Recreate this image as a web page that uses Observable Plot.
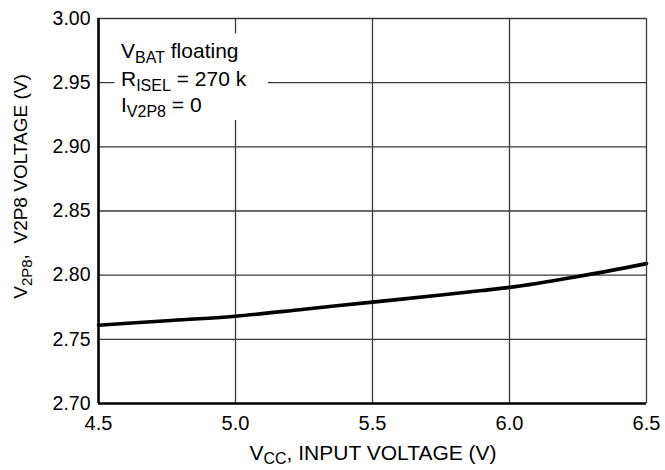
<!DOCTYPE html>
<html><head><meta charset="utf-8">
<script src="https://cdn.jsdelivr.net/npm/d3@7"></script>
<script src="https://cdn.jsdelivr.net/npm/@observablehq/plot@0.6"></script>
<style>
body{margin:0;background:#fff}
svg{font-family:"Liberation Sans",Arial,sans-serif}
</style>
</head><body><div id="chart"></div>
<script>
// Data
const vcc  = [4.5, 4.75, 5.0, 5.25, 5.5, 5.75, 5.9, 6.0, 6.25, 6.5];
const v2p8 = [2.761, 2.7645, 2.768, 2.7735, 2.779, 2.7845, 2.788, 2.7905, 2.799, 2.809];
const xTicks = [4.5, 5.0, 5.5, 6.0, 6.5];
const yTicks = [2.70, 2.75, 2.80, 2.85, 2.90, 2.95, 3.00];
const noteMain = ["V", "R", "I"];
const noteSub  = ["BAT", "ISEL", "V2P8"];
const noteRest = [" floating", " = 270 k", " = 0"];
const xTitle = ["V", "CC", ", INPUT VOLTAGE (V)"];
const yTitle = ["V", "2P8", ",  V2P8 VOLTAGE (V)"];

const data = vcc.map((x, i) => ({x, y: v2p8[i]}));
const noteBox = [{x1: 4.56, x2: 5.12, y1: 2.9205, y2: 2.988}];

const W = 665, H = 470;
const plot = Plot.plot({
  width: W, height: H,
  marginLeft: 98, marginRight: 19, marginTop: 18, marginBottom: 67,
  style: {fontFamily: '"Liberation Sans",Arial,sans-serif', fontSize: "19px", color: "#000", background: "#fff"},
  x: {domain: [4.5, 6.5]},
  y: {domain: [2.7, 3.0]},
  marks: [
    Plot.ruleX(xTicks.slice(1, -1), {stroke: "#3a3a3a", strokeWidth: 1.3}),
    Plot.ruleY(yTicks.slice(1, -1), {stroke: "#3a3a3a", strokeWidth: 1.3}),
    Plot.rect(noteBox, {x1: "x1", x2: "x2", y1: "y1", y2: "y2", fill: "white"}),
    Plot.line(data, {x: "x", y: "y", stroke: "black", strokeWidth: 3.6, curve: "monotone-x"}),
    Plot.ruleY([3.0], {stroke: "#3a3a3a", strokeWidth: 1.3}),
    Plot.ruleX([6.5], {stroke: "#3a3a3a", strokeWidth: 1.3}),
    Plot.ruleY([2.7], {stroke: "black", strokeWidth: 2.6}),
    Plot.ruleX([4.5], {stroke: "black", strokeWidth: 2.6}),
    Plot.axisX({ticks: xTicks, tickSize: 0, tickPadding: 12, tickFormat: d => d.toFixed(1), label: null, fontSize: 20}),
    Plot.axisY({ticks: yTicks, tickSize: 0, tickPadding: 8, tickFormat: d => d.toFixed(2), label: null, fontSize: 19.5})
  ]
});
document.getElementById("chart").appendChild(plot);

const svg = d3.select(plot);
const sx = plot.scale("x"), sy = plot.scale("y");

// annotation
const noteG = svg.append("g").attr("font-size", 21).attr("text-anchor", "start").attr("fill", "black");
const baseY = [58, 86, 112];
noteMain.forEach((m, i) => {
  const t = noteG.append("text").attr("x", sx.apply(4.5) + 23).attr("y", baseY[i]);
  t.append("tspan").text(m);
  t.append("tspan").attr("font-size", 16).attr("dy", 5).text(noteSub[i]);
  t.append("tspan").attr("dy", -5).text(noteRest[i]);
});

// x title
const xt = svg.append("text").attr("text-anchor", "middle").attr("font-size", 21).attr("fill", "black")
  .attr("x", (sx.apply(4.5) + sx.apply(6.5)) / 2 + 1).attr("y", 460);
xt.append("tspan").text(xTitle[0]);
xt.append("tspan").attr("font-size", 16).attr("dy", 4).text(xTitle[1]);
xt.append("tspan").attr("dy", -4).text(xTitle[2]);

// y title
const yt = svg.append("text").attr("text-anchor", "middle").attr("font-size", 19).attr("fill", "black")
  .attr("transform", `translate(27,${(sy.apply(2.7) + sy.apply(3.0)) / 2 - 24}) rotate(-90)`);
yt.append("tspan").text(yTitle[0]);
yt.append("tspan").attr("font-size", 15).attr("dy", 5).text(yTitle[1]);
yt.append("tspan").attr("dy", -5).text(yTitle[2]);
</script>
</body></html>
